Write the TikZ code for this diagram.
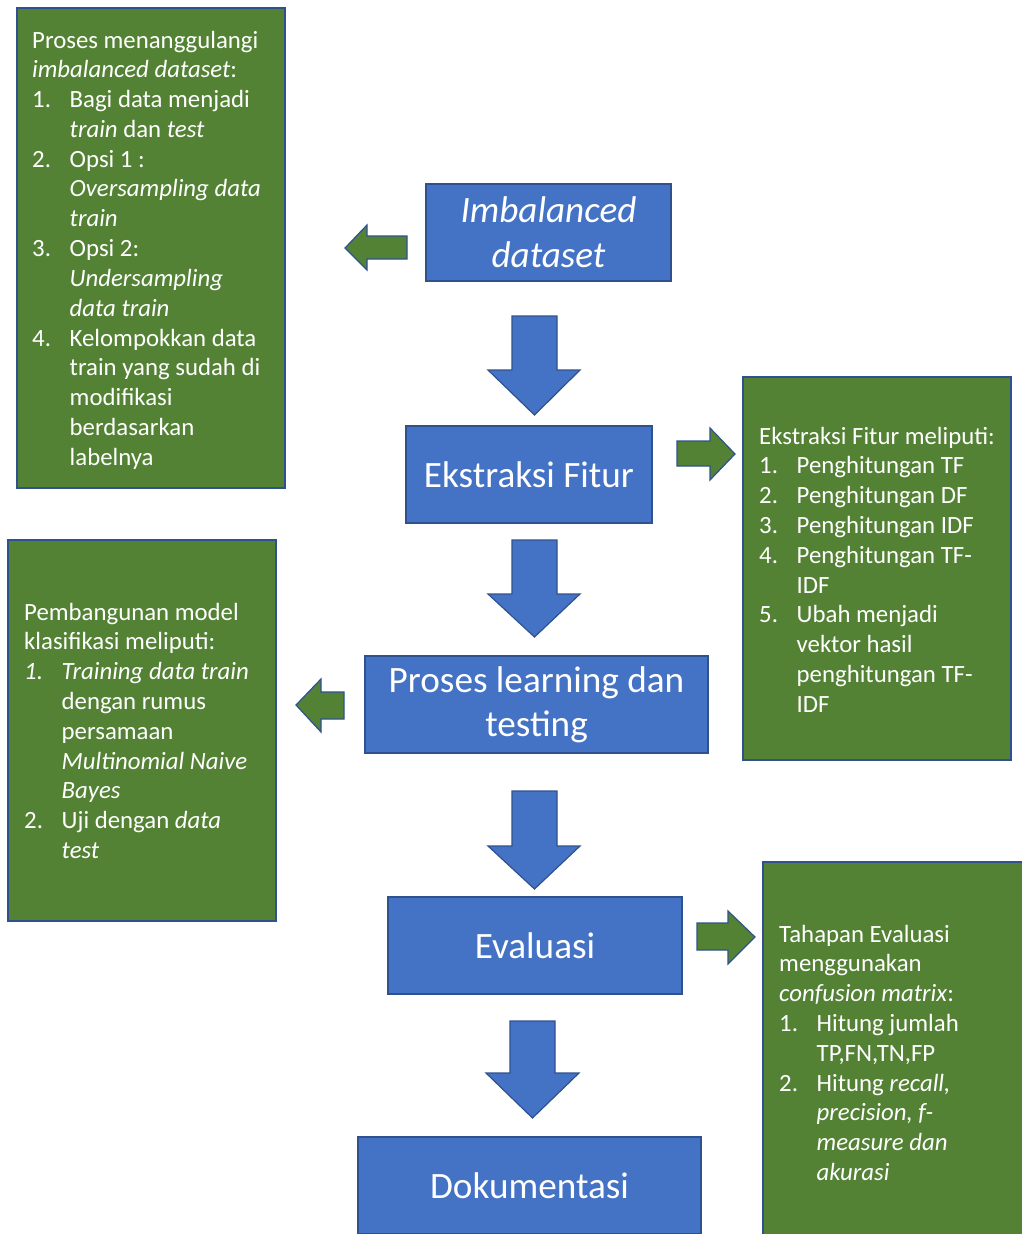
\documentclass[tikz,border=0pt]{standalone}
\usepackage{fontspec}
\setmainfont{Carlito}
\definecolor{bluefill}{HTML}{4472C4}
\definecolor{blueline}{HTML}{2F528F}
\definecolor{greenfill}{HTML}{548235}
\newcommand\itemnum[1]{\makebox[37.5pt][l]{#1}}
\newcommand\itemind{\hspace*{37.5pt}}
\tikzset{
  bluebox/.style={draw=blueline, fill=bluefill, line width=1.5pt, text=white,
    inner sep=0pt, font=\fontsize{37.2}{44}\selectfont, align=center},
  greenbox/.style={draw=blueline, fill=greenfill, line width=1.5pt, inner sep=0pt},
  greentext/.style={text=white, inner sep=0pt, anchor=base west,
    font=\fontsize{24.8}{29.8}\selectfont},
  bluearrow/.style={draw=blueline, fill=bluefill, line width=1.2pt, line join=miter},
  greenarrow/.style={draw=blueline, fill=greenfill, line width=1.2pt, line join=miter},
}
\begin{document}
\begin{tikzpicture}[x=1pt,y=-1pt]
\useasboundingbox (0,0) rectangle (1022,1234);

% green boxes
\node[greenbox, minimum width=268pt, minimum height=480pt] (g1) at (151,248) {};
\node[greenbox, minimum width=268pt, minimum height=383pt] (g2) at (877,568.5) {};
\node[greenbox, minimum width=268pt, minimum height=381pt] (g3) at (142,730.5) {};
\node[greenbox, minimum width=270pt, minimum height=384pt] (g4) at (898,1054) {};

% blue boxes
\node[bluebox, minimum width=245pt, minimum height=97pt, font=\fontsize{37.2}{45}\selectfont\itshape] (imb) at (548.5,232.5) {Imbalanced\\dataset};
\node[bluebox, minimum width=246pt, minimum height=97pt] (eks) at (529,474.5) {Ekstraksi Fitur};
\node[bluebox, minimum width=343pt, minimum height=97pt] (pro) at (536.5,704.5) {\raisebox{-3pt}{Proses learning dan}\\\raisebox{-3pt}{testing}};
\node[bluebox, minimum width=294pt, minimum height=97pt] (eva) at (535,945.5) {Evaluasi};
\node[bluebox, minimum width=343pt, minimum height=97pt] (dok) at (529.5,1185.5) {Dokumentasi};

% down block arrows
\draw[bluearrow] (512,316) -- (557,316) -- (557,370) -- (580,370) -- (534.5,415) -- (488,370) -- (512,370) -- cycle;
\draw[bluearrow] (512,540) -- (557,540) -- (557,594) -- (580,594) -- (534.5,637) -- (488,594) -- (512,594) -- cycle;
\draw[bluearrow] (512,791) -- (557,791) -- (557,846) -- (580,846) -- (534.5,889) -- (488,846) -- (512,846) -- cycle;
\draw[bluearrow] (510,1021) -- (555,1021) -- (555,1073) -- (579,1073) -- (532.5,1118) -- (486,1073) -- (510,1073) -- cycle;

% side block arrows
\draw[greenarrow] (407,236) -- (367,236) -- (367,225) -- (345,248) -- (367,270) -- (367,259) -- (407,259) -- cycle;
\draw[greenarrow] (677,441) -- (710,441) -- (710,428) -- (735,454) -- (710,480) -- (710,466) -- (677,466) -- cycle;
\draw[greenarrow] (344,692) -- (321,692) -- (321,679) -- (296,705) -- (321,732) -- (321,719) -- (344,719) -- cycle;
\draw[greenarrow] (697,923) -- (728,923) -- (728,911) -- (755,937) -- (728,964) -- (728,950) -- (697,950) -- cycle;

% texts
\node[greentext] (t1) at (32,48) {\begin{tabular}[t]{@{}l@{}}
Proses menanggulangi\\
\textit{imbalanced dataset}:\\
\itemnum{1.}Bagi data menjadi\\
\itemind\textit{train} dan \textit{test}\\
\itemnum{2.}Opsi 1 :\\
\itemind\textit{Oversampling data}\\
\itemind\textit{train}\\
\itemnum{3.}Opsi 2:\\
\itemind\textit{Undersampling}\\
\itemind\textit{data train}\\
\itemnum{4.}Kelompokkan data\\
\itemind train yang sudah di\\
\itemind modifikasi\\
\itemind berdasarkan\\
\itemind labelnya
\end{tabular}};

\node[greentext] (t2) at (759,444) {\begin{tabular}[t]{@{}l@{}}
Ekstraksi Fitur meliputi:\\
\itemnum{1.}Penghitungan TF\\
\itemnum{2.}Penghitungan DF\\
\itemnum{3.}Penghitungan IDF\\
\itemnum{4.}Penghitungan TF-\\
\itemind IDF\\
\itemnum{5.}Ubah menjadi\\
\itemind vektor hasil\\
\itemind penghitungan TF-\\
\itemind IDF
\end{tabular}};

\node[greentext] (t3) at (24,620) {\begin{tabular}[t]{@{}l@{}}
Pembangunan model\\
klasifikasi meliputi:\\
\itemnum{\textit{1.}}\textit{Training data train}\\
\itemind dengan rumus\\
\itemind persamaan\\
\itemind\textit{Multinomial Naive}\\
\itemind\textit{Bayes}\\
\itemnum{2.}Uji dengan \textit{data}\\
\itemind\textit{test}
\end{tabular}};

\node[greentext] (t4) at (779,942) {\begin{tabular}[t]{@{}l@{}}
Tahapan Evaluasi\\
menggunakan\\
\textit{confusion matrix}:\\
\itemnum{1.}Hitung jumlah\\
\itemind TP,FN,TN,FP\\
\itemnum{2.}Hitung \textit{recall,}\\
\itemind\textit{precision, f-}\\
\itemind\textit{measure dan}\\
\itemind\textit{akurasi}
\end{tabular}};
\end{tikzpicture}
\end{document}
